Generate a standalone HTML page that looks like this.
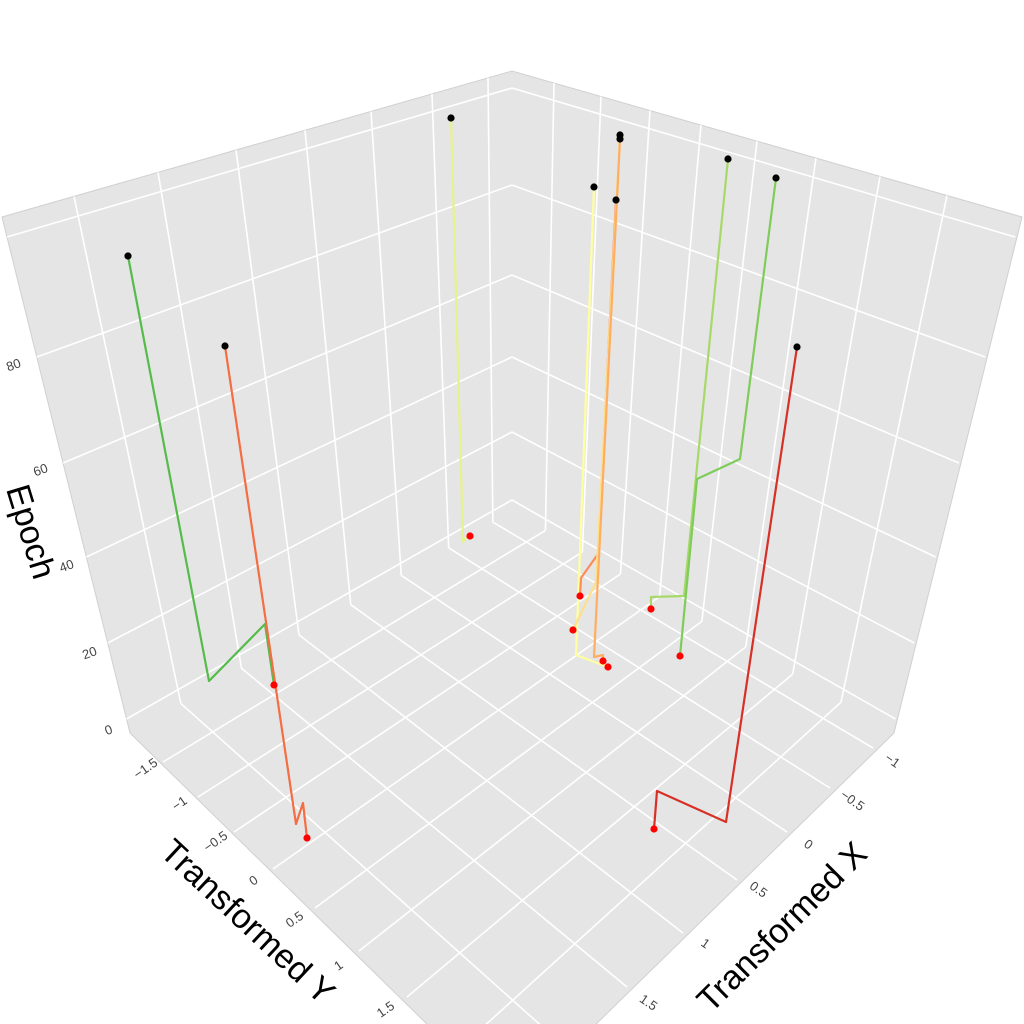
<!DOCTYPE html>
<html><head><meta charset="utf-8"><style>
html,body{margin:0;padding:0;background:#fff;width:1024px;height:1024px;overflow:hidden}
svg{display:block}
text{font-family:"Liberation Sans","DejaVu Sans",sans-serif}
</style></head><body>
<svg id="s" width="1024" height="1024" viewBox="0 0 1024 1024" xmlns="http://www.w3.org/2000/svg">
<defs><clipPath id="cp"><polygon points="2,217 512,71 1022,217 894,733 590,1030 433,1030 130,733"/></clipPath></defs>
<polygon points="2,217 512,71 1022,217 894,733 590,1030 433,1030 130,733" fill="#e5e5e5" stroke="#d0d0d0" stroke-width="1"/>
<g id="grid" clip-path="url(#cp)" stroke="#fff" stroke-width="1.6" fill="none"></g>
<g id="tr" fill="none" stroke-width="2.2" stroke-linejoin="round"></g>
<g id="dots"></g>
<g fill="#444" font-size="13">
<text transform="translate(148,772) rotate(-35)" text-anchor="middle">−1.5</text>
<text transform="translate(182,807) rotate(-35)" text-anchor="middle">−1</text>
<text transform="translate(218,845) rotate(-35)" text-anchor="middle">−0.5</text>
<text transform="translate(256,884) rotate(-35)" text-anchor="middle">0</text>
<text transform="translate(297,923) rotate(-35)" text-anchor="middle">0.5</text>
<text transform="translate(341,969) rotate(-35)" text-anchor="middle">1</text>
<text transform="translate(388,1013) rotate(-35)" text-anchor="middle">1.5</text>
<text transform="translate(890,764) rotate(35)" text-anchor="middle">−1</text>
<text transform="translate(850,804) rotate(35)" text-anchor="middle">−0.5</text>
<text transform="translate(806,848) rotate(35)" text-anchor="middle">0</text>
<text transform="translate(756,893) rotate(35)" text-anchor="middle">0.5</text>
<text transform="translate(703,947) rotate(35)" text-anchor="middle">1</text>
<text transform="translate(646,1006) rotate(35)" text-anchor="middle">1.5</text>
<text transform="translate(15,369) rotate(-20)" text-anchor="middle">80</text>
<text transform="translate(42,474) rotate(-20)" text-anchor="middle">60</text>
<text transform="translate(68,570) rotate(-20)" text-anchor="middle">40</text>
<text transform="translate(91,657) rotate(-20)" text-anchor="middle">20</text>
<text transform="translate(110,734) rotate(-20)" text-anchor="middle">0</text>
</g>
<g fill="#000" font-size="34">
<text transform="translate(240,930) rotate(43)" text-anchor="middle">Transformed Y</text>
<text transform="translate(790,935) rotate(-45)" text-anchor="middle">Transformed X</text>
<text transform="translate(20,535) rotate(73)" text-anchor="middle">Epoch</text>
</g>
</svg>
<script>
var NS="http://www.w3.org/2000/svg";
function inter(p1,p2,p3,p4){var d=(p1[0]-p2[0])*(p3[1]-p4[1])-(p1[1]-p2[1])*(p3[0]-p4[0]);
var a=p1[0]*p2[1]-p1[1]*p2[0],b=p3[0]*p4[1]-p3[1]*p4[0];
return [(a*(p3[0]-p4[0])-(p1[0]-p2[0])*b)/d,(a*(p3[1]-p4[1])-(p1[1]-p2[1])*b)/d];}
var g=document.getElementById('grid');
function ln(a,b,par,col,w){var l=document.createElementNS(NS,'line');l.setAttribute('x1',a[0]);l.setAttribute('y1',a[1]);l.setAttribute('x2',b[0]);l.setAttribute('y2',b[1]);if(col){l.setAttribute('stroke',col);}if(w)l.setAttribute('stroke-width',w);(par||g).appendChild(l);}
var VZ=[512,2275],B=[512,511],L=[130,733],R=[894,733];
var lt=[74,158,236,305,371,432,488],lb=[];
lt.forEach(function(x){var t=[x,217+(x-2)*(-146/510)];var b=inter(t,VZ,B,L);lb.push(b);ln(t,b);});
var rt=[554,601,650,701,757,816,880,947],rb=[];
rt.forEach(function(x){var t=[x,71+(x-512)*(146/510)];var b=inter(t,VZ,B,R);rb.push(b);ln(t,b);});
var rf=[[873,748],[830,788],[787,832],[737,880],[683,933],[627,987],[565,1047]];
for(var i=0;i<7;i++){ln(lb[6-i],rf[i]);}
var lf=[[163,762],[198,797],[234,832],[273,869],[315,908],[359,951],[407,997],[460,1048]];
for(var i=0;i<8;i++){ln(rb[i],lf[i]);}
var ly=[237,357,463,557,643,719],by=[88,185,275,357,432,500];
for(var i=0;i<6;i++){var xl=2+(ly[i]-217)*(128/516);ln([xl,ly[i]],[512,by[i]]);ln([1022-xl,ly[i]],[512,by[i]]);}
var T=[
["#55bb4a",[[128,256],[209,681],[265,624],[274,685]]],
["#f46d43",[[225,346],[296,824],[303,803],[307,838]]],
["#e6f28a",[[451,118],[463,542],[468,535],[470,536]]],
["#ffffa0",[[594,187],[576,655],[608,667]]],
["#fc8d59",[[616,200],[598,554],[581,578],[580,596]]],
["#fee08b",[[620,135],[596,582],[573,630]]],
["#fdae61",[[620,139],[594,657],[603,655],[603,661]]],
["#a6d96a",[[728,159],[684,596],[651,597],[651,609]]],
["#7fcc5a",[[776,178],[740,459],[697,479],[680,656]]],
["#d73027",[[797,347],[726,822],[657,791],[654,829]]]];
var tr=document.getElementById('tr'),dg=document.getElementById('dots');
function dot(p,c){var e=document.createElementNS(NS,'circle');e.setAttribute('cx',p[0]);e.setAttribute('cy',p[1]);e.setAttribute('r',3.6);e.setAttribute('fill',c);dg.appendChild(e);}
T.forEach(function(t){var p=document.createElementNS(NS,'polyline');p.setAttribute('points',t[1].map(function(q){return q.join(',')}).join(' '));p.setAttribute('stroke',t[0]);tr.appendChild(p);});
T.forEach(function(t){dot(t[1][0],'#000');dot(t[1][t[1].length-1],'#f00');});
</script>
</body></html>
